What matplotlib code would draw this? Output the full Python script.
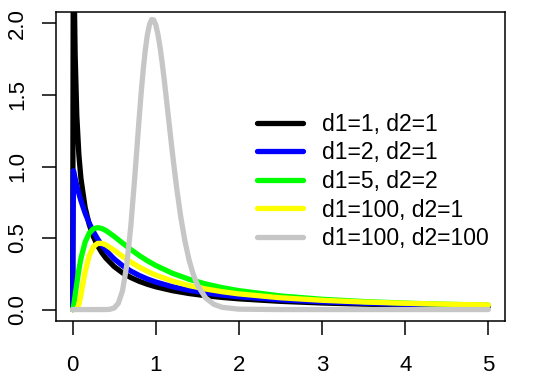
import matplotlib
matplotlib.use("Agg")
import matplotlib.pyplot as plt

plt.rcParams['font.family'] = ['Liberation Sans', 'DejaVu Sans']

# x grid shared by the first four curves
x_main = [0, 0.01, 0.02, 0.03, 0.05, 0.075, 0.1, 0.15, 0.2, 0.25, 0.3, 0.35, 0.4,
          0.5, 0.6, 0.7, 0.8, 0.9, 1.0, 1.2, 1.4, 1.6, 1.8, 2.0, 2.5, 3.0, 3.5,
          4.0, 4.5, 5.0]

y_d1_1_d2_1 = [0, 3.1516, 2.2067, 1.7842, 1.3557, 1.0812, 0.9151, 0.7147, 0.5931,
               0.5093, 0.4470, 0.3986, 0.3595, 0.3001, 0.2568, 0.2238, 0.1977,
               0.1766, 0.1592, 0.1321, 0.1121, 0.0968, 0.0847, 0.0750, 0.0575,
               0.0459, 0.0378, 0.0318, 0.0273, 0.0237]

y_d1_2_d2_1 = [0, 0.9707, 0.9429, 0.9163, 0.8668, 0.8109, 0.7607, 0.6747, 0.6037,
               0.5443, 0.4941, 0.4512, 0.4141, 0.3536, 0.3065, 0.2690, 0.2385,
               0.2134, 0.1925, 0.1595, 0.1350, 0.1162, 0.1013, 0.0894, 0.0680,
               0.0540, 0.0442, 0.0370, 0.0316, 0.0274]

y_d1_5_d2_2 = [0, 0.0227, 0.0589, 0.0997, 0.1829, 0.2781, 0.3577, 0.4709, 0.5345,
               0.5645, 0.5726, 0.5668, 0.5524, 0.5111, 0.4648, 0.4196, 0.3780,
               0.3409, 0.3080, 0.2537, 0.2117, 0.1789, 0.1529, 0.1321, 0.0952,
               0.0717, 0.0559, 0.0448, 0.0367, 0.0306]

y_d1_100_d2_1 = [0, 0, 0, 0.00004, 0.0036, 0.0348, 0.1022, 0.2632, 0.3786, 0.4393,
                 0.4624, 0.4633, 0.4521, 0.4141, 0.3716, 0.3320, 0.2970, 0.2668,
                 0.2408, 0.1991, 0.1677, 0.1436, 0.1246, 0.1094, 0.0823, 0.0647,
                 0.0526, 0.0439, 0.0373, 0.0322]

# separate, denser x grid for the narrow d1=100, d2=100 curve
x_narrow = [0, 0.3, 0.4, 0.45, 0.5, 0.55, 0.6, 0.65, 0.7, 0.75, 0.8, 0.825, 0.85,
            0.875, 0.9, 0.925, 0.95, 0.975, 1.0, 1.025, 1.05, 1.075, 1.1, 1.15,
            1.2, 1.25, 1.3, 1.35, 1.4, 1.45, 1.5, 1.6, 1.7, 1.8, 2.0, 2.5, 5.0]
y_d1_100_d2_100 = [0, 0, 0.0002, 0.0019, 0.0110, 0.0443, 0.1316, 0.3063, 0.5844,
                   0.9462, 1.3364, 1.5197, 1.6832, 1.8199, 1.9244, 1.9936, 2.0268,
                   2.0245, 1.9898, 1.9264, 1.8393, 1.7338, 1.6148, 1.3556, 1.0950,
                   0.8553, 0.6490, 0.4801, 0.3475, 0.2467, 0.1723, 0.0806, 0.0361,
                   0.0156, 0.0028, 0.0000, 0]

labels = ["d1=1, d2=1", "d1=2, d2=1", "d1=5, d2=2", "d1=100, d2=1", "d1=100, d2=100"]
colors = ["#000000", "#0000FF", "#00FF00", "#FFFF00", "#C6C6C6"]
x_ticks = [0, 1, 2, 3, 4, 5]
y_ticks = [0.0, 0.5, 1.0, 1.5, 2.0]

fig = plt.figure(figsize=(5.42, 3.85), dpi=100)
ax = fig.add_axes([56 / 542, 1 - 321 / 385, (505 - 56) / 542, (321 - 12) / 385])

series = [(x_main, y_d1_1_d2_1), (x_main, y_d1_2_d2_1), (x_main, y_d1_5_d2_2),
          (x_main, y_d1_100_d2_1), (x_narrow, y_d1_100_d2_100)]
for (xs, ys), c, lab in zip(series, colors, labels):
    ax.plot(xs, ys, color=c, lw=3.8, label=lab, solid_joinstyle='round',
            solid_capstyle='round')

ax.set_xlim(-0.2, 5.2)
ax.set_ylim(-0.08, 2.08)
ax.set_xticks(x_ticks)
ax.set_xticklabels([str(t) for t in x_ticks])
ax.set_yticks(y_ticks)
ax.set_yticklabels([f"{t:.1f}" for t in y_ticks])
for s in ax.spines.values():
    s.set_linewidth(1.1)
ax.tick_params(axis='both', length=10, width=1.1, labelsize=16, direction='out')
ax.tick_params(axis='x', pad=14.5)
ax.tick_params(axis='y', pad=17.5)
for lbl in ax.get_yticklabels():
    lbl.set_rotation(90)
    lbl.set_va('center')
    lbl.set_ha('center')
    lbl.set_rotation_mode('anchor')

leg = ax.legend(loc='upper left', bbox_to_anchor=(257 / 542, 1 - 113 / 385),
                bbox_transform=fig.transFigure, frameon=False, fontsize=16.5,
                handlelength=2.0, handletextpad=0.83, labelspacing=0.24,
                borderpad=0, borderaxespad=0)
for h in leg.get_lines():
    h.set_linewidth(3.8)

fig.savefig("out.png", dpi=100)
